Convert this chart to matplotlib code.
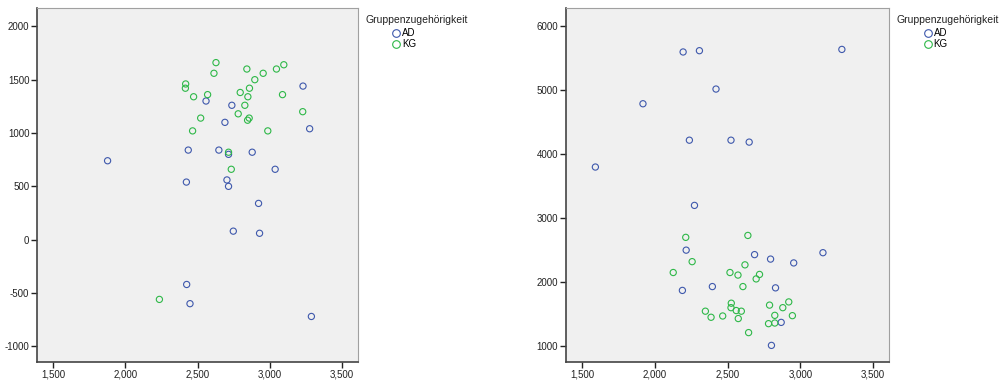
import matplotlib
matplotlib.use("Agg")
import matplotlib.pyplot as plt
from matplotlib.lines import Line2D
from matplotlib.ticker import FixedLocator, FuncFormatter

plt.rcParams['font.family'] = ['Liberation Sans', 'DejaVu Sans']

# Left chart data
left_ad_x = [1876, 2558, 2737, 2689, 3230, 3276, 2435, 2647, 2714, 2878, 3037, 2422, 2703, 2714, 2922, 2747, 2929, 2424, 2447, 3288]
left_ad_y = [740, 1300, 1260, 1100, 1440, 1040, 840, 840, 800, 820, 660, 540, 560, 500, 340, 80, 60, -420, -600, -720]
left_kg_x = [2627, 2613, 2841, 2954, 3046, 3097, 2417, 2415, 2896, 2859, 2472, 2569, 2795, 2848, 3088, 2827, 2781, 3228, 2521, 2857, 2846, 2465, 2986, 2714, 2733, 2235]
left_kg_y = [1660, 1560, 1600, 1560, 1600, 1640, 1460, 1420, 1500, 1420, 1340, 1360, 1380, 1340, 1360, 1260, 1180, 1200, 1140, 1140, 1120, 1020, 1020, 820, 660, -560]

# Right chart data
right_ad_x = [2194, 2306, 3285, 2420, 1918, 2237, 2523, 2648, 1591, 2272, 2215, 2685, 2795, 3155, 2954, 2395, 2829, 2189, 2868, 2801]
right_ad_y = [5600, 5620, 5640, 5020, 4790, 4220, 4220, 4190, 3800, 3200, 2500, 2430, 2360, 2460, 2300, 1930, 1910, 1870, 1370, 1010]
right_kg_x = [2639, 2212, 2256, 2619, 2126, 2516, 2571, 2719, 2696, 2605, 2525, 2523, 2559, 2594, 2347, 2386, 2466, 2573, 2644, 2788, 2920, 2879, 2824, 2945, 2781, 2824]
right_kg_y = [2730, 2700, 2320, 2270, 2150, 2150, 2110, 2120, 2050, 1930, 1670, 1600, 1555, 1545, 1545, 1450, 1470, 1430, 1210, 1640, 1690, 1600, 1480, 1475, 1350, 1360]

x_ticks = [1500, 2000, 2500, 3000, 3500]
left_y_ticks = [-1000, -500, 0, 500, 1000, 1500, 2000]
right_y_ticks = [1000, 2000, 3000, 4000, 5000, 6000]

groups = ['AD', 'KG']
legend_title = 'Gruppenzugehörigkeit'
c_ad = '#3E58AC'
c_kg = '#2EB848'

fig = plt.figure(figsize=(10, 3.83), dpi=100)
axL = fig.add_axes([0.037, 0.0548, 0.321, 0.924])
axR = fig.add_axes([0.5657, 0.0548, 0.3236, 0.924])

def style(ax, yt, ylim):
    ax.set_facecolor('#F0F0F0')
    ax.set_xlim(1387, 3611)
    ax.set_ylim(*ylim)
    ax.xaxis.set_major_locator(FixedLocator(x_ticks))
    ax.yaxis.set_major_locator(FixedLocator(yt))
    ax.xaxis.set_major_formatter(FuncFormatter(lambda v, p: f'{int(v):,}'))
    ax.yaxis.set_major_formatter(FuncFormatter(lambda v, p: f'{int(v)}'))
    ax.tick_params(direction='out', length=4, width=1, colors='#222222', labelsize=7, pad=1.5)
    for s in ['left', 'bottom']:
        ax.spines[s].set_color('#444444')
        ax.spines[s].set_linewidth(1.2)
    for s in ['top', 'right']:
        ax.spines[s].set_color('#A0A0A0')
        ax.spines[s].set_linewidth(0.8)

for ax, ax_x, ax_y, kg_x, kg_y, yt, ylim in [
        (axL, left_ad_x, left_ad_y, left_kg_x, left_kg_y, left_y_ticks, (-1147, 2171)),
        (axR, right_ad_x, right_ad_y, right_kg_x, right_kg_y, right_y_ticks, (750, 6286))]:
    style(ax, yt, ylim)
    ax.scatter(ax_x, ax_y, s=20, facecolors='none', edgecolors=c_ad, linewidths=0.8, zorder=3)
    ax.scatter(kg_x, kg_y, s=20, facecolors='none', edgecolors=c_kg, linewidths=0.8, zorder=3)

handles = [Line2D([], [], marker='o', linestyle='none', markersize=5.5, markerfacecolor='none',
                  markeredgecolor=c, markeredgewidth=0.8) for c in (c_ad, c_kg)]

for tx, lx in [(0.365, 0.393), (0.8967, 0.9245)]:
    fig.text(tx, 0.948, legend_title, fontsize=7.5, va='center', ha='left', color='#222222')
    fig.legend(handles, groups, loc='upper left', bbox_to_anchor=(lx, 0.927), frameon=False,
               fontsize=7, handlelength=0.7, handletextpad=0.25, labelspacing=0.15,
               borderpad=0, borderaxespad=0, handleheight=0.7)

fig.savefig('out.png', dpi=100)
